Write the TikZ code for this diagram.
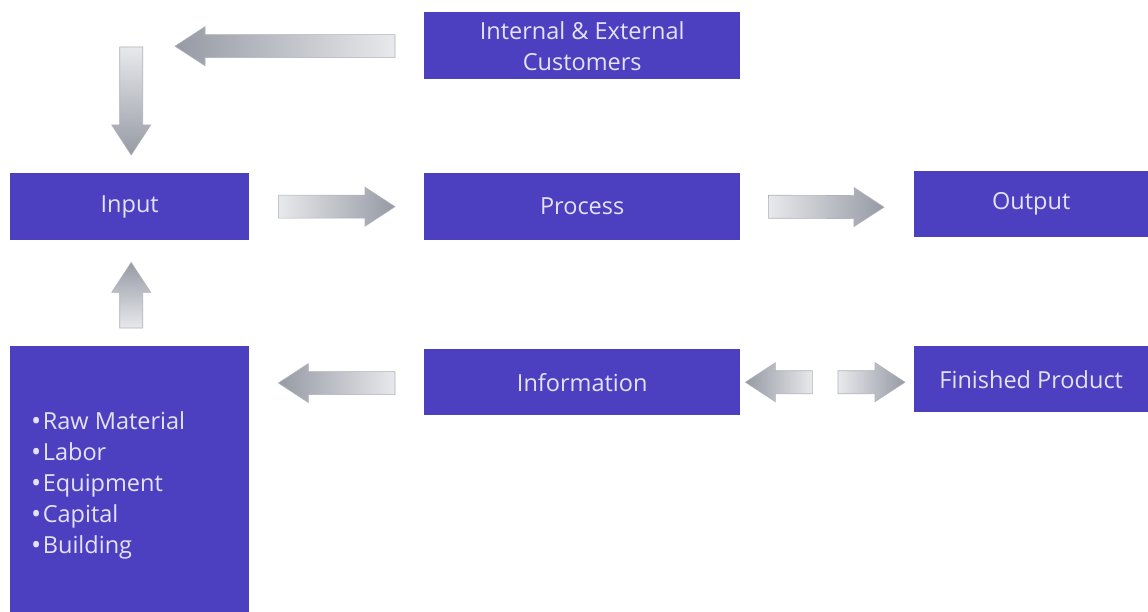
\documentclass[tikz,border=0pt]{standalone}
\usepackage{fontspec}
\setmainfont{Open Sans}
\usetikzlibrary{calc}
\definecolor{boxblue}{RGB}{76,64,192}
\definecolor{boxtext}{RGB}{228,226,244}
\definecolor{arrdark}{RGB}{150,154,164}
\definecolor{arrlight}{RGB}{232,233,236}
\definecolor{arrline}{RGB}{175,178,186}
\tikzset{
  bluebox/.style={fill=boxblue, draw=none, anchor=north west, inner sep=0pt,
    text=boxtext, font=\fontsize{23.5}{31}\selectfont, align=center},
  barrow/.style={draw=arrline, line width=0.6pt, line join=miter},
  toleft/.style={left color=arrdark, right color=arrlight},
  toright/.style={left color=arrlight, right color=arrdark},
  todown/.style={top color=arrlight, bottom color=arrdark},
  toup/.style={top color=arrdark, bottom color=arrlight},
}
\newcommand\blockarrow[3]{%
  \coordinate (bn) at ($(#2)!30pt!(#1)$);
  \path[barrow,#3] ($(#1)!11.5pt!90:(#2)$) -- ($(bn)!11.5pt!-90:(#1)$)
    -- ($(bn)!19.5pt!-90:(#1)$) -- (#2) -- ($(bn)!19.5pt!90:(#1)$)
    -- ($(bn)!11.5pt!90:(#1)$) -- ($(#1)!11.5pt!-90:(#2)$) -- cycle;}
\newcommand\bul{\raisebox{-1.2pt}{\fontsize{27}{27}\selectfont•}\hspace{1.5pt}}
\begin{document}
\begin{tikzpicture}[x=1pt,y=-1pt]
\useasboundingbox[fill=white] (0,0) rectangle (1148,612);
% boxes
\node[bluebox, minimum width=316pt, minimum height=67pt] (cust) at (424,12) {Internal \& External\\Customers};
\node[bluebox, minimum width=239pt, minimum height=67pt] (input) at (10,173) {Input};
\node[bluebox, minimum width=316pt, minimum height=67pt] (process) at (424,173) {Process};
\node[bluebox, minimum width=234pt, minimum height=66pt] (output) at (914,171) {Output};
\node[bluebox, minimum width=239pt, minimum height=266pt] (res) at (10,346) {};
\node[bluebox, minimum width=316pt, minimum height=66pt] (info) at (424,349) {Information};
\node[bluebox, minimum width=234pt, minimum height=66pt] (fin) at (914,346) {Finished Product};
\node[anchor=north west, inner sep=0pt, text=boxtext, align=left,
  font=\fontsize{23.5}{31}\selectfont] (list) at (31,411)
  {\bul Raw Material\\\bul Labor\\\bul Equipment\\\bul Capital\\\bul Building};
% arrow end points
\coordinate (a1t) at ($(cust.west)+(-29,0.5)$);
\coordinate (a1h) at ($(cust.west)+(-249,0.5)$);
\coordinate (a2t) at ($(input.north)+(1.5,-126)$);
\coordinate (a2h) at ($(input.north)+(1.5,-18)$);
\coordinate (a3t) at ($(input.east)+(29,0)$);
\coordinate (a3h) at ($(process.west)+(-29,0)$);
\coordinate (a4t) at ($(process.east)+(28,0)$);
\coordinate (a4h) at ($(output.west)+(-30,3)$);
\coordinate (a5t) at ($(res.north)+(1.5,-18)$);
\coordinate (a5h) at ($(input.south)+(1.5,22)$);
\coordinate (a6t) at ($(info.west)+(-29,1)$);
\coordinate (a6h) at ($(res.north east)+(29,37)$);
\coordinate (a7t) at ($(info.east)+(72,0)$);
\coordinate (a7h) at ($(info.east)+(5,0)$);
\coordinate (a8t) at ($(fin.west)+(-76,3)$);
\coordinate (a8h) at ($(fin.west)+(-9,3)$);
\blockarrow{a1t}{a1h}{toleft}
\blockarrow{a2t}{a2h}{todown}
\blockarrow{a3t}{a3h}{toright}
\blockarrow{a4t}{a4h}{toright}
\blockarrow{a5t}{a5h}{toup}
\blockarrow{a6t}{a6h}{toleft}
\blockarrow{a7t}{a7h}{toleft}
\blockarrow{a8t}{a8h}{toright}
\end{tikzpicture}
\end{document}
